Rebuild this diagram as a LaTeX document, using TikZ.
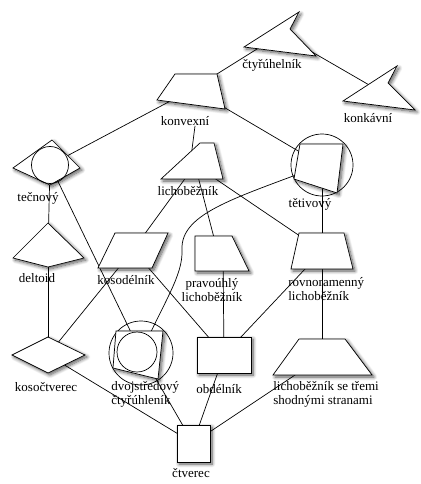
\documentclass[tikz,border=0pt]{standalone}
\usepackage{fontspec}
\setmainfont{Liberation Serif}
\usetikzlibrary{shadows.blur}

\begin{document}
\begin{tikzpicture}[
  x=1pt, y=-1pt,
  line width=0.7pt,
  shp/.style={draw, fill=white, blur shadow={shadow xshift=2pt, shadow yshift=-2pt, shadow blur radius=3.5pt, shadow blur steps=8, shadow opacity=65}},
  lbl/.style={inner sep=0pt, align=center, font=\fontsize{13}{14}\selectfont},
  lbll/.style={lbl, align=left, anchor=west},
]
\useasboundingbox (0,0) rectangle (420,484);

\coordinate (ctyr) at (281,34);
\coordinate (konkav) at (383,93);
\coordinate (konvex) at (193,89);
\coordinate (tecn) at (50,165);
\coordinate (lich) at (195,165);
\coordinate (tetiv) at (322,165);
\coordinate (deltoid) at (48,250);
\coordinate (kosod) at (133,250);
\coordinate (prav) at (218,253);
\coordinate (rovn) at (322,251);
\coordinate (kosoc) at (48,355);
\coordinate (dvoj) at (141,353);
\coordinate (obdel) at (224,355);
\coordinate (trem) at (322,357);
\coordinate (ctv) at (193,443);

\node [lbl] (ctyr-l) at (272,65) {čtyřúhelník};
\node [lbl] (konkav-l) at (368,118) {konkávní};
\node [lbl] (konvex-l) at (185,121) {konvexní};
\node [lbl] (tecn-l) at (38,198) {tečnový};
\node [lbl] (lich-l) at (188,191) {lichoběžník};
\node [lbl] (tetiv-l) at (310,204) {tětivový};
\node [lbl] (deltoid-l) at (37,278) {deltoid};
\node [lbl] (kosod-l) at (126,280) {kosodélník};
\node [lbl] (prav-l) at (212,290) {pravoúhlý\\lichoběžník};
\node [lbll] (rovn-l) at (288,289) {rovnoramenný\\lichoběžník};
\node [lbl] (kosoc-l) at (46,387) {kosočtverec};
\node [lbll] (dvoj-l) at (111,394) {dvojstředový\\čtyřúhleník};
\node [lbl] (obdel-l) at (219,389) {obdélník};
\node [lbll] (trem-l) at (273,394) {lichoběžník se třemi\\shodnými stranami};
\node [lbl] (ctv-l) at (191,473) {čtverec};

\draw (ctyr) -- (konvex);
\draw (ctyr) -- (konkav);
\draw (konvex) -- (tecn);
\draw ([xshift=10]konvex-l.south) -- ([xshift=-5]lich);
\draw (konvex) -- (tetiv);
\draw (tecn) -- (deltoid);
\draw (tecn) -- (dvoj);
\draw (lich) -- (kosod);
\draw (lich) -- (prav);
\draw (lich) -- (rovn);
\draw (tetiv) -- (rovn);
\draw (tetiv) .. controls (240,197) and (180,212) .. (182,250) .. controls (183,275) and (165,300) .. (dvoj);
\draw (deltoid) -- (kosoc);
\draw (kosod) -- (kosoc);
\draw (kosod) -- (obdel);
\draw ([xshift=5]prav) -- (obdel);
\draw (rovn) -- (obdel);
\draw (rovn) -- (trem);
\draw (kosoc) -- (ctv);
\draw (dvoj) -- (ctv);
\draw (obdel) -- (ctv);
\draw (trem) -- (ctv);

\draw (tetiv) circle [radius=31];
\draw (dvoj) circle [radius=32];

\draw [shp] (299,12) -- (290,29) -- (316,56) -- (244,47) -- cycle;
\draw [shp] (397,66) -- (388,83) -- (415,110) -- (343,101) -- cycle;
\draw [shp] (175,74) -- (217,74) -- (225,109) -- (157,100) -- cycle;
\draw [shp] (13,168) -- (52,140) -- (80,168) -- (50,185) -- cycle;
\draw (50,165) circle [radius=18.5];
\draw [shp] (200,143) -- (214,143) -- (223,179) -- (161,179) -- cycle;
\draw [shp] (300,144) -- (343,144) -- (337,193) -- (294,179) -- cycle;
\draw [shp] (48,223) -- (13,258) -- (48,267) -- (84,258) -- cycle;
\draw [shp] (115,233) -- (168,233) -- (152,268) -- (98,268) -- cycle;
\draw [shp] (195,236) -- (232,236) -- (249,271) -- (195,271) -- cycle;
\draw [shp] (299,233) -- (344,233) -- (353,269) -- (291,269) -- cycle;
\draw [shp] (12,355) -- (48,337) -- (85,355) -- (48,373) -- cycle;
\draw [shp] (116,331) -- (163,331) -- (158,379) -- (113,368) -- cycle;
\draw (137,352) circle [radius=20];
\draw [shp] (197,337) rectangle (251,373);
\draw [shp] (299,339) -- (345,339) -- (372,375) -- (273,375) -- cycle;
\draw [shp] (177,425) rectangle (210,462);

\end{tikzpicture}
\end{document}
